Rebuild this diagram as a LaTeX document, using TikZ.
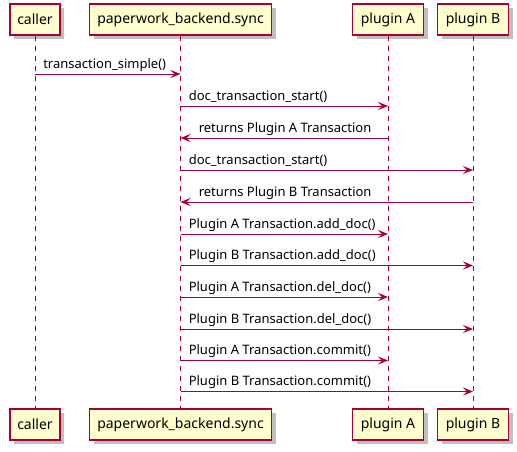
\documentclass[tikz,border=0pt]{standalone}
\usepackage{fontspec}
\setmainfont{Noto Sans}
\usetikzlibrary{arrows.meta,shadows}
\definecolor{pred}{HTML}{A80036}
\definecolor{pfill}{HTML}{FEFECE}
\begin{document}
\begin{tikzpicture}[x=0.75pt,y=-0.75pt,
  part/.style={draw=pred,fill=pfill,line width=1.1pt,minimum height=31*0.75pt,inner sep=0pt,
    font=\fontsize{10.5pt}{12pt}\selectfont,
    drop shadow={shadow xshift=3pt,shadow yshift=-3pt,fill=black,opacity=0.25}},
  life/.style={draw=pred,line width=0.75pt,dash pattern=on 3.75pt off 3.75pt},
  msg/.style={draw=pred,line width=0.75pt,-{Stealth[length=7.5pt,width=6pt,inset=3pt]}},
  lbl/.style={font=\fontsize{9.75pt}{11pt}\selectfont,inner sep=0pt,anchor=base west}]
\useasboundingbox (0,0) rectangle (517,451);
% participants top
\node[part,minimum width=50*0.75pt] (ct) at (35,19.5) {caller};
\node[part,minimum width=182*0.75pt] (pt) at (180.5,19.5) {paperwork\_backend.sync};
\node[part,minimum width=71*0.75pt] (at) at (388,19.5) {plugin A};
\node[part,minimum width=71*0.75pt] (bt) at (473,19.5) {plugin B};
% participants bottom
\node[part,minimum width=50*0.75pt] (cb) at (35,424.5) {caller};
\node[part,minimum width=182*0.75pt] (pb) at (180.5,424.5) {paperwork\_backend.sync};
\node[part,minimum width=71*0.75pt] (ab) at (388,424.5) {plugin A};
\node[part,minimum width=71*0.75pt] (bb) at (473,424.5) {plugin B};
% lifelines
\draw[life] (ct) -- (cb);
\draw[life] (pt) -- (pb);
\draw[life] (at) -- (ab);
\draw[life] (bt) -- (bb);
% rows
\coordinate (r1) at (0,74);
\coordinate (r2) at (0,106);
\coordinate (r3) at (0,138);
\coordinate (r4) at (0,170);
\coordinate (r5) at (0,202);
\coordinate (r6) at (0,234);
\coordinate (r7) at (0,265.5);
\coordinate (r8) at (0,297);
\coordinate (r9) at (0,329);
\coordinate (r10) at (0,360.5);
\coordinate (r11) at (0,391.5);
% messages
\draw[msg] (ct |- r1) -- (pt |- r1);
\node[lbl] (l1) at ([shift={(8,-6)}]ct |- r1) {transaction\_simple()};
\draw[msg] (pt |- r2) -- (at |- r2);
\node[lbl] (l2) at ([shift={(8,-6)}]pt |- r2) {doc\_transaction\_start()};
\draw[msg] (at |- r3) -- (pt |- r3);
\node[lbl] (l3) at ([shift={(18,-6)}]pt |- r3) {returns Plugin A Transaction};
\draw[msg] (pt |- r4) -- (bt |- r4);
\node[lbl] (l4) at ([shift={(8,-6)}]pt |- r4) {doc\_transaction\_start()};
\draw[msg] (bt |- r5) -- (pt |- r5);
\node[lbl] (l5) at ([shift={(18,-6)}]pt |- r5) {returns Plugin B Transaction};
\draw[msg] (pt |- r6) -- (at |- r6);
\node[lbl] (l6) at ([shift={(8,-6)}]pt |- r6) {Plugin A Transaction.add\_doc()};
\draw[msg] (pt |- r7) -- (bt |- r7);
\node[lbl] (l7) at ([shift={(8,-6)}]pt |- r7) {Plugin B Transaction.add\_doc()};
\draw[msg] (pt |- r8) -- (at |- r8);
\node[lbl] (l8) at ([shift={(8,-6)}]pt |- r8) {Plugin A Transaction.del\_doc()};
\draw[msg] (pt |- r9) -- (bt |- r9);
\node[lbl] (l9) at ([shift={(8,-6)}]pt |- r9) {Plugin B Transaction.del\_doc()};
\draw[msg] (pt |- r10) -- (at |- r10);
\node[lbl] (l10) at ([shift={(8,-6)}]pt |- r10) {Plugin A Transaction.commit()};
\draw[msg] (pt |- r11) -- (bt |- r11);
\node[lbl] (l11) at ([shift={(8,-6)}]pt |- r11) {Plugin B Transaction.commit()};
\end{tikzpicture}
\end{document}
